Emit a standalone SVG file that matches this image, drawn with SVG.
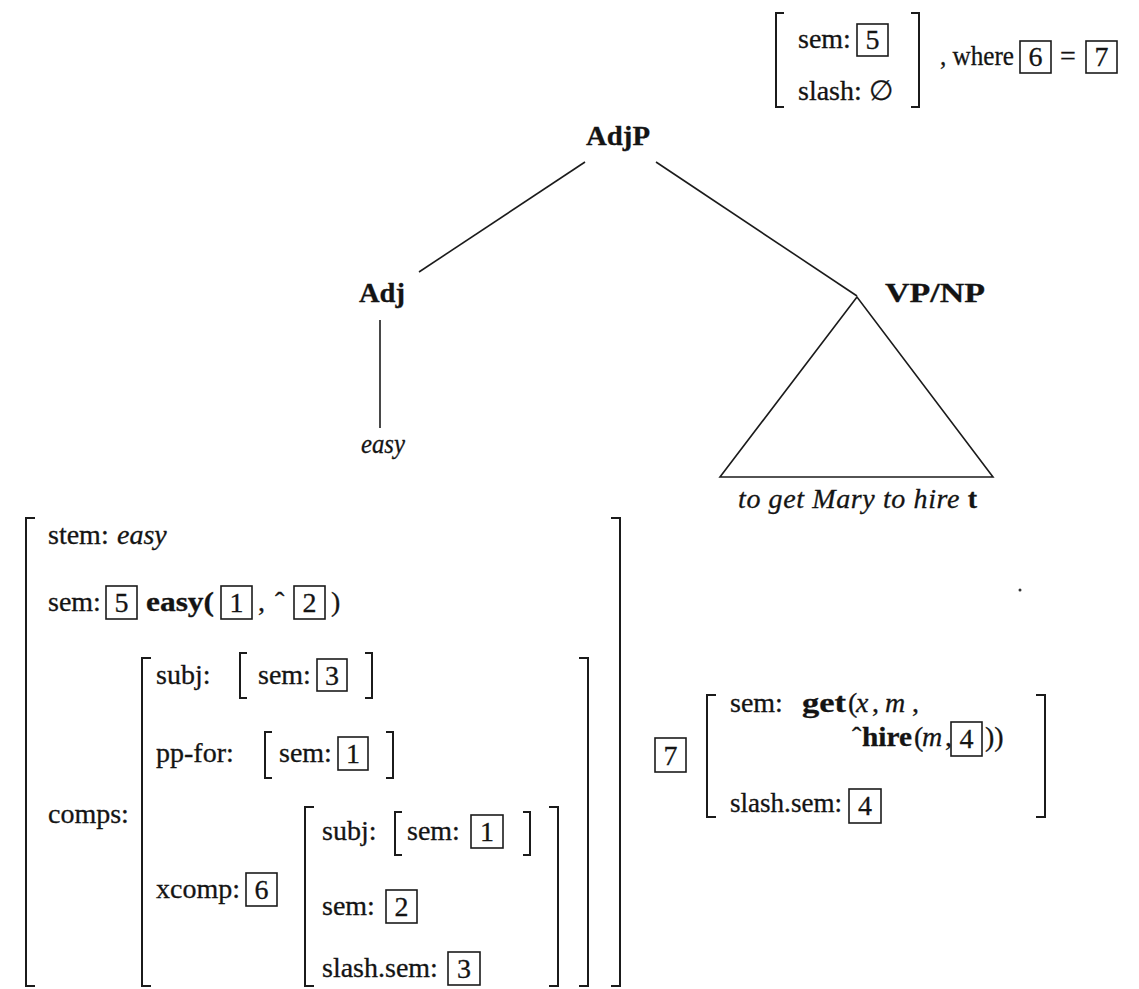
<svg xmlns="http://www.w3.org/2000/svg" width="1139" height="989" viewBox="0 0 1139 989">
<style>
text { font-family: "Liberation Serif", "Times New Roman", "DejaVu Serif", serif; font-size: 28px; fill: #141414; stroke: #141414; stroke-width: 0.3; }
.b { font-weight: bold; }
.i { font-style: italic; }
.d { text-anchor: middle; }
.lab { font-weight: bold; font-size: 28px; }
.br { fill: none; stroke: #1b1b1b; stroke-width: 2; }
.bx { fill: none; stroke: #1b1b1b; stroke-width: 1.6; }
.ln { fill: none; stroke: #1b1b1b; stroke-width: 1.6; }
</style>
<rect width="1139" height="989" fill="#ffffff"/>

<g id="connectors">
  <line class="ln" x1="585" y1="162" x2="419" y2="272"/>
  <line class="ln" x1="656" y1="162" x2="857" y2="296"/>
  <line class="ln" x1="380" y1="320" x2="380" y2="428"/>
  <polygon class="ln" points="857,297 720,477 993,477"/>
</g>

<g id="node-adjp">
  <text class="lab" x="586" y="145" textLength="64" lengthAdjust="spacingAndGlyphs">AdjP</text>
</g>
<g id="node-adj">
  <text class="lab" x="359" y="302" textLength="46" lengthAdjust="spacingAndGlyphs">Adj</text>
</g>
<g id="node-easy">
  <text class="i" x="361" y="453" textLength="44" lengthAdjust="spacingAndGlyphs">easy</text>
</g>
<g id="node-vpnp">
  <text class="lab" x="885" y="302" textLength="100" lengthAdjust="spacingAndGlyphs">VP/NP</text>
</g>
<g id="node-yield">
  <text class="i" x="738" y="508" textLength="239" lengthAdjust="spacing">to get Mary to hire <tspan class="b" font-style="normal">t</tspan></text>
  <circle cx="1020" cy="590" r="1.5" fill="#333"/>
</g>

<g id="top-avm">
  <path class="br" d="M784,13 H776 V107 H784"/>
  <text x="798" y="48">sem:</text>
  <rect class="bx" x="857" y="24" width="31" height="32"/>
  <text class="d" x="872.5" y="49">5</text>
  <text x="798" y="100">slash: ∅</text>
  <path class="br" d="M911,13 H919 V107 H911"/>
  <text x="940" y="65" textLength="74" lengthAdjust="spacingAndGlyphs">, where</text>
  <rect class="bx" x="1020" y="41" width="31" height="32"/>
  <text class="d" x="1035.5" y="66">6</text>
  <text x="1068" y="65" text-anchor="middle">=</text>
  <rect class="bx" x="1086" y="41" width="31" height="32"/>
  <text class="d" x="1101.5" y="66">7</text>
</g>

<g id="big-avm">
  <path class="br" d="M35,518 H26 V986 H35"/>
  <path class="br" d="M611,518 H620 V986 H611"/>
  <text x="48" y="544">stem:</text>
  <text class="i" x="117" y="544">easy</text>

  <text x="48" y="611">sem:</text>
  <rect class="bx" x="106" y="586" width="31" height="33"/>
  <text class="d" x="121.5" y="612">5</text>
  <text class="b" x="146" y="611" textLength="68" lengthAdjust="spacingAndGlyphs">easy(</text>
  <rect class="bx" x="221" y="586" width="31" height="33"/>
  <text class="d" x="236.5" y="612">1</text>
  <text x="258" y="611">,</text>
  <text x="275" y="611">ˆ</text>
  <rect class="bx" x="294" y="586" width="31" height="33"/>
  <text class="d" x="309.5" y="612">2</text>
  <text x="331" y="611">)</text>

  <text x="48" y="823">comps:</text>
  <path class="br" d="M151,658 H142 V986 H151"/>
  <path class="br" d="M579,658 H588 V986 H579"/>

  <text x="156" y="684">subj:</text>
  <path class="br" d="M247,653 H240 V698 H247"/>
  <text x="258" y="684">sem:</text>
  <rect class="bx" x="317" y="659" width="30" height="32"/>
  <text class="d" x="332" y="685">3</text>
  <path class="br" d="M365,653 H372 V698 H365"/>

  <text x="156" y="762">pp-for:</text>
  <path class="br" d="M272,732 H265 V778 H272"/>
  <text x="279" y="762">sem:</text>
  <rect class="bx" x="338" y="737" width="30" height="33"/>
  <text class="d" x="353" y="763">1</text>
  <path class="br" d="M386,732 H393 V778 H386"/>

  <text x="156" y="898">xcomp:</text>
  <rect class="bx" x="246" y="873" width="31" height="33"/>
  <text class="d" x="261.5" y="899">6</text>
  <path class="br" d="M314,807 H305 V986 H314"/>
  <path class="br" d="M549,807 H558 V986 H549"/>

  <text x="322" y="840">subj:</text>
  <path class="br" d="M402,812 H395 V855 H402"/>
  <text x="407" y="840">sem:</text>
  <rect class="bx" x="471" y="815" width="32" height="33"/>
  <text class="d" x="487" y="841">1</text>
  <path class="br" d="M523,812 H530 V855 H523"/>

  <text x="322" y="915">sem:</text>
  <rect class="bx" x="386" y="890" width="31" height="33"/>
  <text class="d" x="401.5" y="916">2</text>

  <text x="322" y="977">slash.sem:</text>
  <rect class="bx" x="448" y="952" width="32" height="33"/>
  <text class="d" x="464" y="978">3</text>
</g>

<g id="tag-7">
  <rect class="bx" x="655" y="738" width="31" height="34"/>
  <text class="d" x="670.5" y="765">7</text>
</g>

<g id="right-avm">
  <path class="br" d="M716,695 H707 V817 H716"/>
  <path class="br" d="M1036,695 H1045 V817 H1036"/>
  <text x="730" y="712">sem:</text>
  <text class="b" x="802" y="712" textLength="44" lengthAdjust="spacingAndGlyphs">get</text>
  <text x="848" y="712">(</text>
  <text class="i" x="856" y="712">x</text>
  <text x="872" y="712">,</text>
  <text class="i" x="885" y="712">m</text>
  <text x="912" y="712">,</text>
  <text x="852" y="746">ˆ</text>
  <text class="b" x="862" y="746" textLength="50" lengthAdjust="spacingAndGlyphs">hire</text>
  <text x="914" y="746">(</text>
  <text class="i" x="922" y="746">m</text>
  <text x="945" y="746">,</text>
  <rect class="bx" x="951" y="722" width="31" height="34"/>
  <text class="d" x="966.5" y="748">4</text>
  <text x="985" y="746">))</text>
  <text x="730" y="812" textLength="112" lengthAdjust="spacingAndGlyphs">slash.sem:</text>
  <rect class="bx" x="849" y="789" width="32" height="34"/>
  <text class="d" x="865" y="815">4</text>
</g>
</svg>
